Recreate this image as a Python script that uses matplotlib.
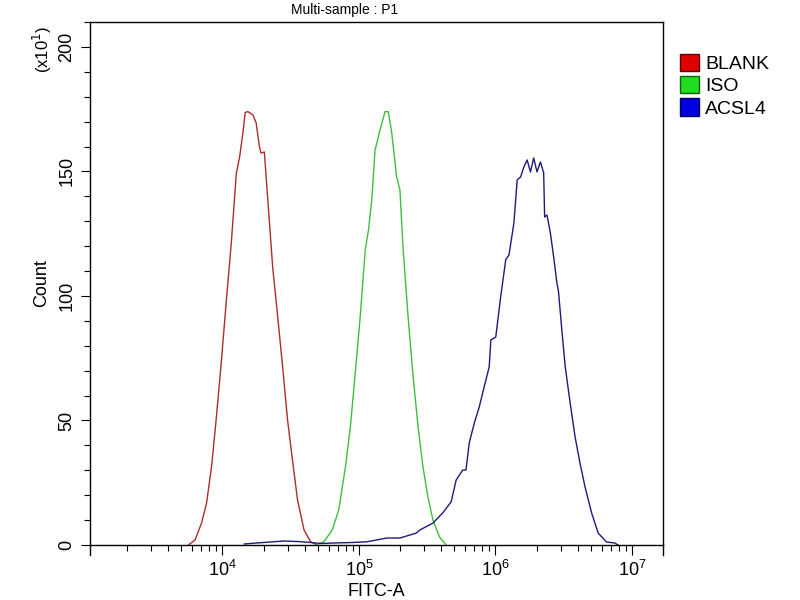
import matplotlib
matplotlib.use('Agg')
import matplotlib.pyplot as plt
from matplotlib.patches import Patch
from matplotlib.ticker import LogLocator, MultipleLocator, NullFormatter
import numpy as np

plt.rcParams['font.family'] = ['Liberation Sans', 'DejaVu Sans']

# Гистограммы: log10(FITC-A) и Count (x10^1)
blank_log = [3.751, 3.799, 3.847, 3.884, 3.920, 3.956, 3.993, 4.029, 4.065, 4.102,
             4.126, 4.150, 4.167, 4.187, 4.223, 4.247, 4.271, 4.283, 4.307, 4.332,
             4.368, 4.405, 4.441, 4.477, 4.513, 4.550, 4.598, 4.646, 4.695]
blank_cnt = [0.0, 2.0, 8.8, 16.9, 31.3, 51.4, 74.3, 98.4, 121.3, 149.4,
             155.8, 165.5, 173.7, 174.0, 172.7, 169.5, 159.9, 157.4, 157.8, 138.9,
             111.6, 91.6, 71.5, 50.2, 34.1, 18.1, 6.0, 1.3, 0.0]

iso_log = [4.683, 4.743, 4.804, 4.852, 4.901, 4.937, 4.973, 5.009, 5.046, 5.070,
           5.094, 5.118, 5.155, 5.191, 5.215, 5.240, 5.276, 5.300, 5.324, 5.360,
           5.397, 5.433, 5.469, 5.505, 5.542, 5.590, 5.639]
iso_cnt = [0.0, 1.3, 6.0, 14.1, 31.3, 47.4, 69.1, 91.6, 118.5, 126.5,
           138.6, 158.6, 166.7, 174.0, 174.0, 165.5, 147.8, 142.6, 118.5, 91.6,
           67.5, 47.4, 31.3, 19.3, 10.0, 3.2, 0.0]

acsl4_log = [4.160, 4.250, 4.350, 4.450, 4.550, 4.650, 4.720, 4.813, 4.950, 5.060,
             5.203, 5.300, 5.421, 5.445, 5.542, 5.614, 5.675, 5.712, 5.760, 5.784,
             5.808, 5.845, 5.881, 5.917, 5.954, 5.966, 6.002, 6.038, 6.075, 6.099,
             6.135, 6.159, 6.184, 6.208, 6.232, 6.256, 6.280, 6.304, 6.329, 6.353,
             6.360, 6.377, 6.402, 6.426, 6.450, 6.462, 6.486, 6.511, 6.547, 6.583,
             6.619, 6.656, 6.704, 6.752, 6.813, 6.874, 6.898]
acsl4_cnt = [0.4, 0.8, 1.2, 1.6, 1.4, 1.0, 0.6, 0.8, 1.0, 1.3,
             2.8, 2.8, 4.8, 6.0, 8.8, 12.9, 17.3, 26.1, 30.1, 30.1,
             41.0, 49.0, 55.4, 63.5, 71.5, 82.3, 83.5, 99.6, 114.5, 116.5,
             129.3, 146.6, 147.8, 151.8, 154.6, 149.8, 155.4, 149.8, 153.8, 149.4,
             131.7, 132.5, 125.3, 115.7, 105.2, 101.6, 86.3, 71.5, 57.0, 43.4,
             32.9, 23.3, 12.9, 4.8, 1.2, 0.8, 0.0]

labels = ['BLANK', 'ISO', 'ACSL4']
line_colors = ['#b02a2a', '#3cc03c', '#1c1c78']
box_colors = ['#e00000', '#20dd20', '#0000e0']
edge_colors = ['#600000', '#106010', '#000060']

fig = plt.figure(figsize=(8, 6), dpi=100)
ax = fig.add_axes([90 / 800, 55 / 600, 573 / 800, 523 / 600])

series = [(blank_log, blank_cnt), (iso_log, iso_cnt), (acsl4_log, acsl4_cnt)]
for (lg, cnt), col in zip(series, line_colors):
    ax.plot(10 ** np.array(lg), cnt, color=col, lw=1.0)

ax.set_xscale('log')
ax.set_xlim(10 ** 3.03, 10 ** 7.227)
ax.set_ylim(0, 210)
ax.xaxis.set_major_locator(LogLocator(base=10, numticks=10))
ax.xaxis.set_minor_locator(LogLocator(base=10, subs=np.arange(2, 10), numticks=20))
ax.xaxis.set_minor_formatter(NullFormatter())
ax.yaxis.set_major_locator(MultipleLocator(50))
ax.yaxis.set_minor_locator(MultipleLocator(10))

for sp in ax.spines.values():
    sp.set_linewidth(1.0)
ax.tick_params(axis='x', which='major', length=7, width=0.8, labelsize=13, pad=4)
ax.tick_params(axis='x', which='minor', length=4.3, width=0.8)
ax.tick_params(axis='y', which='major', length=6.5, width=0.8, labelsize=13,
               labelrotation=90, pad=4)
ax.tick_params(axis='y', which='minor', length=4.5, width=0.8)
for t in ax.get_yticklabels():
    t.set_va('center')

# ось Y продолжена немного вниз, как в исходнике
for xa in (0, 1):
    ax.plot([xa, xa], [0, -0.019], transform=ax.transAxes, color='black',
            lw=1.0, clip_on=False)

ax.set_xlabel('FITC-A', fontsize=13, labelpad=2)
ax.set_ylabel('Count', fontsize=13, labelpad=6)
fig.text(42 / 800, 1 - 50 / 600, '(x10$^{1}$)', rotation=90, fontsize=12,
         ha='center', va='center')
fig.text(345 / 800, 1 - 10 / 600, 'Multi-sample : P1', fontsize=10,
         ha='center', va='center')

handles = [Patch(facecolor=fc, edgecolor=ec, lw=1.0)
           for fc, ec in zip(box_colors, edge_colors)]
fig.legend(handles, labels, loc='upper left', bbox_to_anchor=(672 / 800, 1 - 46 / 600),
           frameon=False, fontsize=14, handlelength=1.0, handleheight=1.0,
           handletextpad=0.3, labelspacing=0.15, borderaxespad=0)

fig.savefig('out.png', dpi=100)
